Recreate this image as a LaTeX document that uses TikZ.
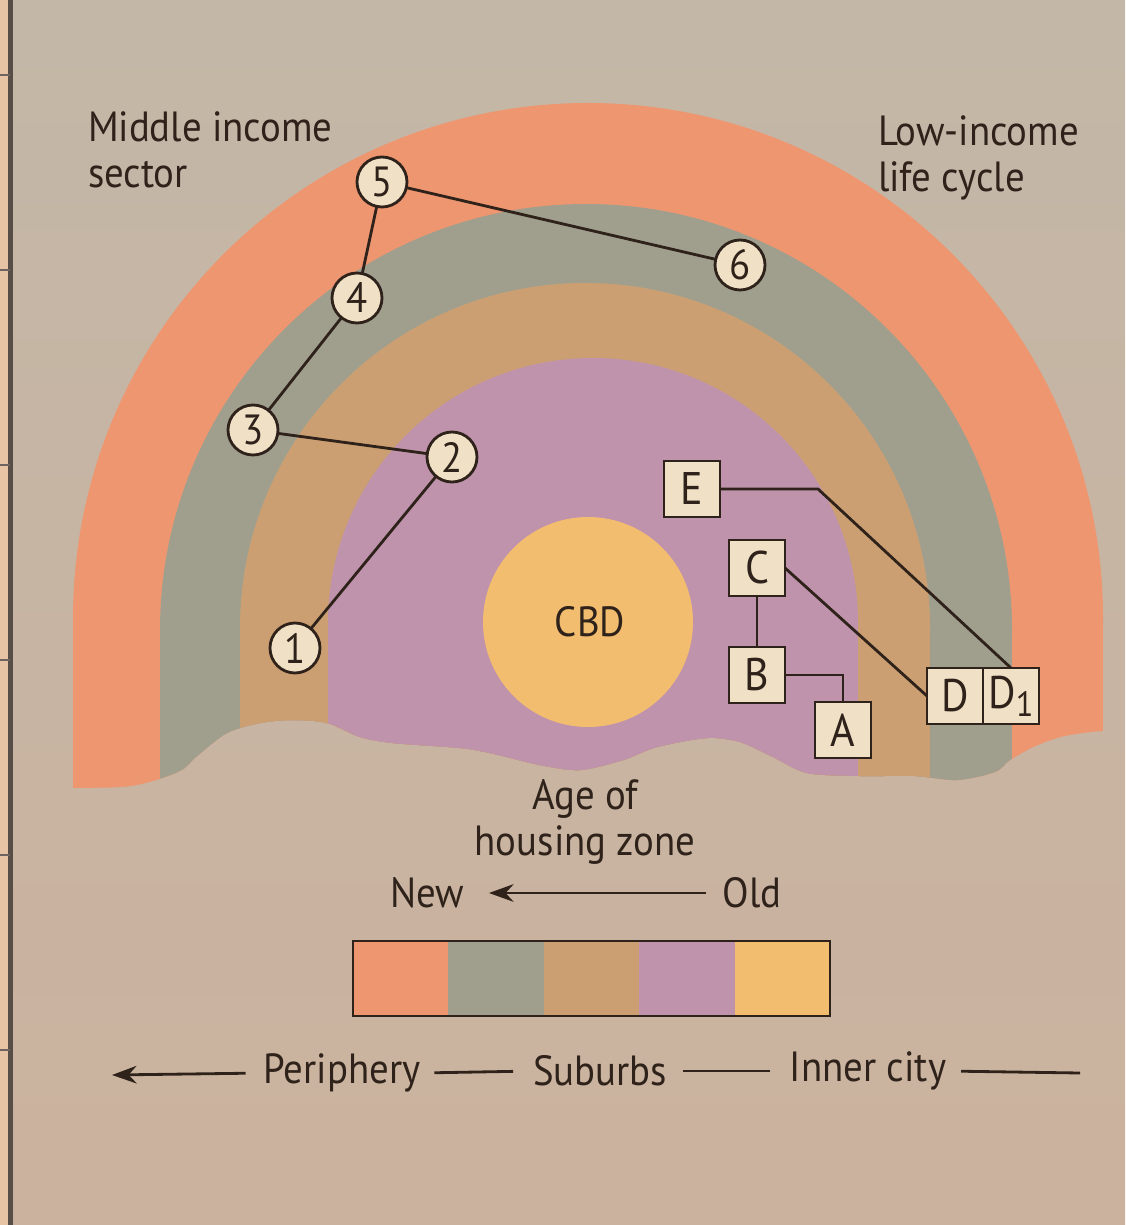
\documentclass[tikz,border=0pt]{standalone}
\usepackage{fontspec}
\setmainfont[FakeStretch=0.92]{PT Sans}
\usetikzlibrary{positioning,arrows.meta}
\definecolor{papertop}{HTML}{C3B7A7}
\definecolor{paperbot}{HTML}{CBB29E}
\definecolor{stripcol}{HTML}{E6C4A4}
\definecolor{periph}{HTML}{EE9670}
\definecolor{suburb}{HTML}{A09F8E}
\definecolor{tanzone}{HTML}{CC9F72}
\definecolor{innerzone}{HTML}{C093AC}
\definecolor{cbdzone}{HTML}{F3BD70}
\definecolor{chip}{HTML}{F0E0C6}
\definecolor{ink}{HTML}{2E221A}
\begin{document}
\begin{tikzpicture}[x=1cm,y=-1cm,inner sep=0pt,outer sep=0pt,line width=0.8pt,
stopcircle/.style={draw=ink,fill=chip,circle,minimum size=0.5cm,font=\fontsize{12}{12}\selectfont,text=ink},
stopbox/.style={draw=ink,fill=chip,rectangle,minimum size=0.56cm,font=\fontsize{13}{13}\selectfont,text=ink},
zonetext/.style={font=\fontsize{12}{13}\selectfont,text=ink,align=left}]
\useasboundingbox (0,0) rectangle (11.25,12.25);
\shade[top color=papertop,bottom color=paperbot] (0,0) rectangle (11.25,12.25);
% edge of the page
\fill[stripcol] (0,0) rectangle (0.09,12.25);
\draw[ink!80,line width=1.4pt] (0.105,0) -- (0.105,12.25);
\foreach \y in {0.75,2.7,4.65,6.6,8.55,10.5}
  \draw[ink!70,line width=0.5pt] (0,\y) -- (0.1,\y);
% housing zones, cut off by the ground
\begin{scope}
\clip (0,0) -- (0,7.9) -- plot[smooth] coordinates {(0.6,7.88) (1.3,7.86) (1.78,7.72) (1.97,7.56) (2.27,7.33) (2.6,7.23) (2.93,7.2) (3.27,7.23) (3.6,7.37) (3.93,7.43) (4.6,7.48) (4.9,7.53) (5.4,7.65) (5.8,7.7) (6.23,7.6) (6.57,7.47) (7.07,7.38) (7.4,7.42) (7.73,7.57) (8.07,7.73) (8.6,7.76) (9.15,7.76) (9.57,7.8) (9.95,7.72) (10.1,7.6) (10.33,7.47) (10.6,7.37) (10.9,7.32) (11.25,7.3)} -- (11.25,0) -- cycle;
\fill[periph] (5.88,6.18) circle (5.15);
\fill[periph] (0.73,6.18) rectangle (11.03,12.25);
\fill[suburb] (5.86,6.30) circle (4.26);
\fill[suburb] (1.60,6.30) rectangle (10.12,12.25);
\fill[tanzone] (5.85,6.28) circle (3.45);
\fill[tanzone] (2.40,6.28) rectangle (9.30,12.25);
\fill[innerzone] (5.93,6.23) circle (2.65);
\fill[innerzone] (3.28,6.23) rectangle (8.58,12.25);
\end{scope}
\fill[cbdzone] (5.88,6.22) circle (1.05);
\node[zonetext] (cbd) at (5.9,6.22) {CBD};
% titles
\node[zonetext,anchor=north west] (middle) at (0.88,1.12) {Middle income\\sector};
\node[zonetext,anchor=north west] (low) at (8.78,1.16) {Low-income\\life cycle};
% middle income moves
\node[stopcircle] (n1) at (2.95,6.48) {1};
\node[stopcircle] (n2) at (4.52,4.57) {2};
\node[stopcircle] (n3) at (2.53,4.30) {3};
\node[stopcircle] (n4) at (3.57,2.98) {4};
\node[stopcircle] (n5) at (3.82,1.82) {5};
\node[stopcircle] (n6) at (7.40,2.65) {6};
\draw[ink] (n1) -- (n2) -- (n3) -- (n4) -- (n5) -- (n6);
% low income moves
\node[stopbox] (E) at (6.92,4.89) {E};
\node[stopbox] (C) at (7.57,5.68) {C};
\node[stopbox] (B) at (7.57,6.75) {B};
\node[stopbox] (A) at (8.43,7.30) {A};
\node[stopbox] (D) at (9.55,6.96) {D};
\node[stopbox,right=0pt of D] (D1) {D\raisebox{-0.35ex}{\fontsize{10}{10}\selectfont 1}};
\coordinate (Ebend) at (8.18,4.89);
\draw[ink] (E.east) -- (Ebend) -- (D1.north);
\draw[ink] (C.east) -- (D.west);
\draw[ink] (C) -- (B);
\draw[ink] (B.east) -| (A.north);
% key
\node[zonetext,align=center] (age) at (5.85,8.22) {Age of\\housing zone};
\node[zonetext] (new) at (4.27,8.93) {New};
\node[zonetext] (old) at (7.52,8.93) {Old};
\draw[ink,-{Stealth[length=7pt,width=5pt]},shorten <=0.17cm,shorten >=0.25cm] (old.west) -- (new.east);
\foreach \c [count=\i from 0] in {periph,suburb,tanzone,innerzone,cbdzone}
  \fill[\c] (3.53+0.954*\i,9.41) rectangle ++(0.954,0.75);
\draw[ink] (3.53,9.41) rectangle (8.30,10.16);
\node[zonetext] (periphery) at (3.42,10.73) {Periphery};
\node[zonetext] (suburbs) at (6.0,10.71) {Suburbs};
\node[zonetext] (inner) at (8.68,10.71) {Inner city};
\coordinate (westend) at (1.12,10.75);
\coordinate (eastend) at (10.8,10.73);
\draw[ink,-{Stealth[length=7pt,width=5pt]},shorten <=0.18cm] (periphery.west) -- (westend);
\draw[ink,shorten <=0.14cm,shorten >=0.2cm] (periphery.east) -- (suburbs.west);
\draw[ink,shorten <=0.16cm,shorten >=0.2cm] (suburbs.east) -- (inner.west);
\draw[ink,shorten <=0.15cm] (inner.east) -- (eastend);
\end{tikzpicture}
\end{document}
